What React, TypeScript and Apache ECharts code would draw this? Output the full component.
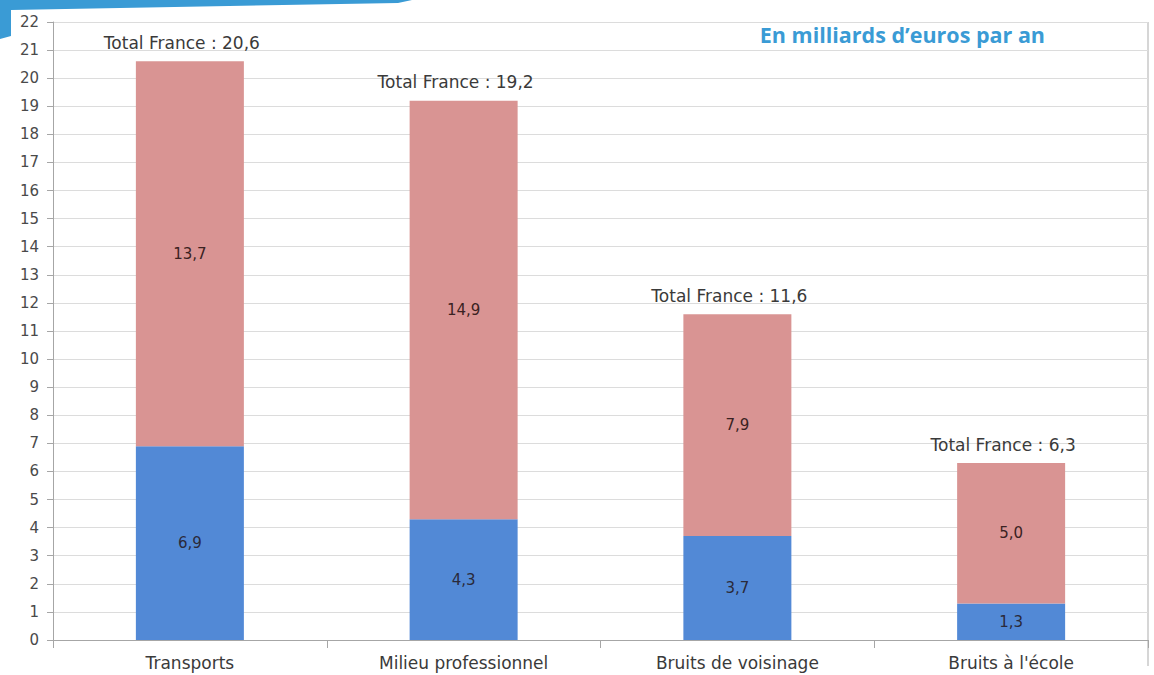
import React, { useEffect, useRef } from "react";
import * as echarts from "echarts";

const categories = ["Transports", "Milieu professionnel", "Bruits de voisinage", "Bruits à l'école"];
const blueValues = [6.9, 4.3, 3.7, 1.3];
const pinkValues = [13.7, 14.9, 7.9, 5.0];
const totals = [20.6, 19.2, 11.6, 6.3];
const yTicks = { min: 0, max: 22, interval: 1 };

const fmt = (v: number) => v.toFixed(1).replace(".", ",");

export default function App() {
  const ref = useRef<HTMLDivElement>(null);
  useEffect(() => {
    if (!ref.current) return;
    const chart = echarts.init(ref.current, null, { renderer: "svg" });
    const font = "'DejaVu Sans', sans-serif";
    chart.setOption({
      animation: false,
      backgroundColor: "#ffffff",
      textStyle: { fontFamily: font },
      grid: { left: 53, right: 6, top: 22, bottom: 35 },
      title: {
        text: "En milliards d’euros par an",
        right: 104,
        top: 18,
        textStyle: { color: "#3a9bd5", fontSize: 21.5, fontWeight: "bold", fontFamily: "'Open Sans', sans-serif" },
      },
      graphic: [
        {
          type: "polygon",
          shape: { points: [[0, 0], [412, 0], [398, 3], [11, 10], [11, 36], [0, 39]] },
          style: { fill: "#3a9bd5" },
        },
        {
          type: "line",
          shape: { x1: 1148, y1: 22, x2: 1148, y2: 666 },
          style: { stroke: "#c8c8c8", lineWidth: 1.5 },
        },
      ],
      xAxis: {
        type: "category",
        data: categories,
        axisLine: { lineStyle: { color: "#a6a6a6" } },
        axisTick: { show: true, alignWithLabel: false, length: 8, lineStyle: { color: "#a6a6a6" } },
        axisLabel: { color: "#3a3a3a", fontSize: 17, margin: 14, fontFamily: font },
      },
      yAxis: {
        type: "value",
        min: yTicks.min,
        max: yTicks.max,
        interval: yTicks.interval,
        axisLine: { show: true, lineStyle: { color: "#a6a6a6" } },
        axisTick: { show: true, length: 6, lineStyle: { color: "#a6a6a6" } },
        axisLabel: { color: "#4a4a4a", fontSize: 15, margin: 14, fontFamily: font },
        splitLine: { lineStyle: { color: "#dcdcdc" } },
      },
      series: [
        {
          type: "bar",
          stack: "total",
          data: blueValues,
          barWidth: 108,
          itemStyle: { color: "#5289d6" },
          label: { show: true, position: "inside", color: "#2a2a3a", fontSize: 15, formatter: (p: any) => fmt(p.value) },
        },
        {
          type: "bar",
          stack: "total",
          data: pinkValues,
          barWidth: 108,
          itemStyle: { color: "#d99493" },
          label: { show: true, position: "inside", color: "#3a2222", fontSize: 15, formatter: (p: any) => fmt(p.value) },
        },
        {
          type: "line",
          data: totals,
          symbol: "circle",
          symbolSize: 2,
          itemStyle: { color: "rgba(0,0,0,0)" },
          lineStyle: { opacity: 0 },
          silent: true,
          label: {
            show: true,
            position: "top",
            distance: 9,
            offset: [-8, 0],
            color: "#3a3a3a",
            fontSize: 17,
            formatter: (p: any) => "Total France : " + fmt(p.value),
          },
        },
      ],
    });
    return () => chart.dispose();
  }, []);
  return <div ref={ref} style={{ position: "fixed", left: 0, top: 0, width: 1154, height: 675 }} />;
}
